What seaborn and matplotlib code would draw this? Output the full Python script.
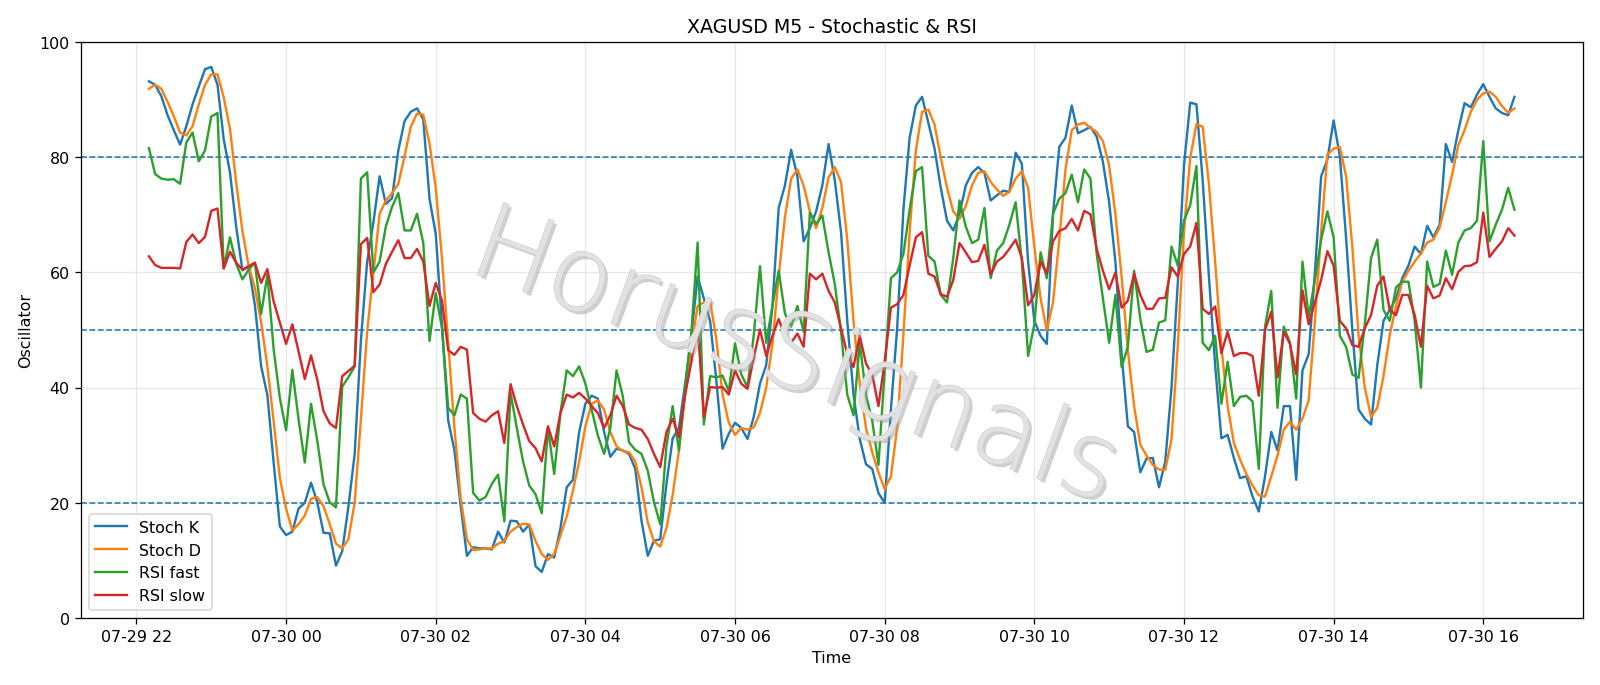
import numpy as np
import pandas as pd
import matplotlib
matplotlib.use("Agg")
import matplotlib.pyplot as plt
import matplotlib.dates as mdates
import matplotlib.patheffects as pe
from matplotlib import font_manager
import seaborn as sns

times = pd.date_range("2025-07-29 22:10", periods=220, freq="5min")

stoch_k = [
    93.2, 92.6, 90.6, 87.3, 84.7, 82.2, 85.4, 89.2, 92.3, 95.3,
    95.7, 92.6, 83.1, 77.4, 67.9, 60.4, 61.0, 54.3, 43.7, 38.7,
    27.0, 15.9, 14.4, 15.0, 19.0, 20.0, 23.5, 20.1, 14.8, 14.7,
    9.1, 11.6, 19.4, 28.5, 48.2, 61.9, 68.7, 76.7, 71.9, 72.9,
    81.2, 86.3, 87.9, 88.5, 86.6, 72.8, 66.7, 51.0, 34.3, 29.1,
    19.5, 10.8, 12.3, 12.1, 12.1, 11.9, 15.0, 13.1, 16.9, 16.8,
    15.0, 16.2, 9.0, 8.0, 11.1, 10.5, 15.6, 22.7, 24.0, 32.3,
    37.2, 38.6, 38.1, 32.3, 28.0, 29.4, 29.1, 28.5, 25.9, 16.9,
    10.8, 13.4, 13.7, 23.3, 31.2, 33.0, 40.7, 49.1, 59.3, 55.5,
    51.6, 41.3, 29.4, 32.0, 33.9, 33.0, 31.1, 34.9, 40.7, 43.9,
    54.2, 71.2, 75.1, 81.3, 76.7, 65.4, 67.7, 70.6, 75.1, 82.3,
    76.0, 67.0, 51.6, 38.8, 31.1, 26.7, 25.9, 21.7, 20.0, 36.2,
    50.3, 70.9, 83.4, 89.0, 90.5, 86.0, 81.5, 74.7, 69.0, 67.3,
    70.2, 75.1, 77.3, 78.3, 77.3, 72.5, 73.4, 74.2, 74.0, 80.8,
    78.9, 61.9, 51.6, 49.0, 47.6, 70.2, 81.8, 83.4, 89.0, 84.2,
    84.7, 85.3, 83.6, 79.2, 72.2, 61.9, 45.8, 33.3, 32.3, 25.3,
    27.7, 27.8, 22.7, 27.2, 40.0, 58.0, 78.6, 89.5, 89.2, 76.0,
    59.3, 43.9, 31.2, 31.8, 27.8, 24.3, 24.6, 21.1, 18.5, 24.6,
    32.3, 29.1, 36.8, 36.8, 24.0, 43.0, 45.8, 60.0, 76.7, 79.6,
    86.4, 80.2, 66.0, 50.0, 36.2, 34.6, 33.6, 43.9, 51.6, 53.5,
    55.5, 59.0, 61.2, 64.5, 63.2, 68.1, 66.1, 68.3, 82.3, 79.2,
    84.7, 89.4, 88.7, 90.9, 92.7, 90.5, 88.5, 87.7, 87.3, 90.5,
]

stoch_d = [
    91.9, 92.6, 91.9, 89.6, 87.1, 84.3, 83.8, 85.4, 89.2, 92.6,
    94.4, 94.4, 90.4, 85.0, 75.6, 67.2, 61.1, 57.3, 51.3, 43.7,
    34.2, 24.3, 19.0, 15.2, 16.3, 17.8, 20.7, 21.0, 19.4, 16.3,
    12.9, 12.1, 13.7, 20.1, 34.5, 49.7, 60.0, 70.2, 72.5, 73.8,
    75.4, 80.2, 85.3, 87.6, 87.4, 82.4, 74.7, 62.5, 47.8, 33.0,
    20.8, 13.7, 11.8, 11.9, 12.1, 12.1, 12.9, 13.4, 15.0, 15.8,
    16.4, 16.2, 13.4, 11.1, 10.1, 11.1, 14.3, 17.6, 22.1, 27.2,
    33.3, 37.2, 37.8, 36.2, 32.3, 29.8, 29.0, 28.8, 27.2, 22.7,
    16.6, 13.3, 12.4, 15.6, 21.4, 29.1, 38.8, 47.1, 54.2, 54.8,
    55.1, 48.4, 38.8, 33.9, 31.8, 33.0, 32.7, 33.1, 35.6, 40.0,
    47.6, 59.3, 69.6, 76.3, 77.9, 75.1, 70.6, 67.7, 71.2, 76.5,
    78.3, 75.7, 65.7, 51.6, 40.7, 33.0, 28.8, 25.3, 22.4, 24.6,
    33.0, 49.1, 67.0, 81.2, 87.9, 88.3, 85.7, 79.9, 74.7, 70.6,
    69.3, 71.5, 75.1, 77.3, 77.6, 75.7, 74.4, 73.3, 74.0, 76.3,
    77.6, 74.7, 64.5, 55.5, 50.0, 54.8, 65.7, 77.9, 84.7, 85.7,
    86.0, 85.1, 84.4, 82.8, 78.6, 70.2, 59.3, 46.5, 36.8, 30.1,
    28.2, 26.6, 25.8, 25.7, 31.0, 47.1, 67.0, 79.9, 85.8, 85.3,
    75.4, 61.9, 47.1, 36.8, 30.4, 27.5, 25.0, 23.0, 21.3, 21.1,
    24.6, 28.2, 32.7, 34.1, 32.7, 34.6, 37.8, 51.6, 67.0, 80.5,
    81.5, 81.8, 76.7, 64.5, 49.1, 40.0, 34.9, 36.5, 42.0, 49.1,
    54.2, 58.4, 60.3, 61.9, 63.3, 65.2, 65.7, 67.8, 72.2, 77.0,
    82.1, 84.7, 87.9, 90.0, 91.1, 91.4, 90.5, 88.9, 87.7, 88.5,
]

rsi_fast = [
    81.6, 77.1, 76.3, 76.1, 76.2, 75.4, 82.6, 84.3, 79.3, 81.2,
    87.1, 87.7, 60.7, 66.1, 61.5, 58.8, 60.5, 61.7, 52.8, 59.6,
    46.7, 38.2, 32.6, 43.1, 34.5, 27.0, 37.2, 30.8, 23.2, 20.1,
    19.2, 40.2, 41.8, 43.7, 76.3, 77.4, 60.0, 61.9, 68.0, 71.4,
    73.8, 67.3, 67.3, 70.2, 65.1, 48.1, 56.4, 50.3, 36.5, 35.2,
    38.8, 38.1, 21.7, 20.4, 21.0, 23.3, 24.9, 16.8, 39.1, 33.0,
    27.2, 23.0, 21.5, 18.2, 33.0, 25.0, 35.6, 43.0, 42.0, 43.7,
    40.7, 36.2, 31.7, 28.5, 33.0, 43.0, 38.5, 30.5, 29.2, 28.5,
    25.6, 20.1, 16.3, 29.8, 36.8, 29.1, 40.0, 49.7, 65.2, 33.6,
    42.0, 41.8, 42.1, 39.4, 47.7, 42.3, 40.1, 49.1, 61.1, 47.8,
    54.2, 60.3, 52.9, 50.6, 54.2, 49.7, 70.4, 68.4, 69.9, 63.5,
    58.0, 49.7, 38.8, 35.2, 47.8, 38.8, 34.3, 26.6, 42.7, 59.0,
    60.0, 63.2, 70.9, 77.6, 78.3, 62.9, 61.9, 56.1, 54.8, 62.5,
    72.5, 68.0, 65.1, 65.7, 71.2, 59.0, 63.8, 65.1, 68.3, 72.2,
    61.9, 45.5, 51.0, 63.5, 59.0, 70.2, 72.8, 73.8, 77.0, 72.2,
    77.9, 76.3, 63.2, 55.5, 47.8, 56.1, 43.6, 47.1, 60.3, 51.9,
    46.2, 46.6, 51.3, 51.7, 64.5, 61.2, 69.0, 71.7, 78.5, 47.8,
    46.5, 49.0, 37.2, 44.5, 36.8, 38.4, 38.6, 37.6, 25.9, 50.6,
    56.8, 36.5, 50.6, 47.8, 38.1, 61.9, 52.3, 58.7, 65.7, 70.6,
    66.1, 49.0, 47.1, 42.3, 41.7, 51.0, 62.5, 65.7, 53.5, 51.6,
    57.4, 58.4, 58.4, 51.6, 40.0, 61.9, 57.5, 58.0, 63.8, 59.6,
    65.2, 67.3, 67.7, 69.0, 82.8, 65.4, 68.3, 70.9, 74.7, 70.9,
]

rsi_slow = [
    62.8, 61.3, 60.8, 60.8, 60.8, 60.7, 65.3, 66.6, 65.1, 66.2,
    70.7, 71.1, 60.7, 63.6, 61.7, 60.5, 61.1, 61.7, 58.2, 60.6,
    55.0, 51.3, 47.6, 51.0, 46.3, 41.5, 45.6, 41.4, 35.9, 33.8,
    33.0, 42.0, 42.9, 43.8, 64.9, 66.0, 56.6, 57.9, 61.5, 63.6,
    65.6, 62.5, 62.5, 64.1, 61.9, 54.2, 58.2, 55.1, 46.5, 45.7,
    47.1, 46.6, 35.6, 34.6, 34.1, 35.2, 35.9, 30.4, 40.6, 36.8,
    33.6, 30.7, 29.5, 27.2, 33.3, 29.8, 35.6, 38.8, 38.3, 39.1,
    38.1, 36.8, 35.6, 33.0, 35.2, 38.6, 36.8, 33.6, 33.0, 32.7,
    31.1, 28.5, 26.2, 32.3, 34.6, 31.4, 38.8, 44.5, 51.0, 34.9,
    40.1, 40.0, 40.1, 38.8, 43.0, 40.7, 39.8, 45.2, 50.1, 45.5,
    49.0, 51.9, 49.0, 47.8, 49.4, 47.1, 59.8, 58.8, 59.8, 56.8,
    54.8, 50.3, 45.8, 43.6, 49.0, 44.2, 42.3, 36.8, 44.5, 53.9,
    54.5, 56.1, 61.2, 66.1, 67.0, 59.8, 59.3, 56.2, 55.8, 58.7,
    65.1, 63.5, 61.8, 62.0, 64.8, 59.6, 61.9, 62.7, 64.1, 65.7,
    62.5, 54.3, 56.1, 61.9, 59.8, 65.4, 67.2, 67.7, 69.3, 67.3,
    70.7, 70.1, 64.1, 60.3, 57.1, 60.0, 53.9, 55.1, 59.8, 56.1,
    53.7, 53.7, 55.5, 55.6, 60.9, 59.3, 63.2, 64.5, 68.6, 53.7,
    52.8, 54.1, 46.0, 49.7, 45.5, 46.0, 46.0, 45.5, 38.6, 50.0,
    53.2, 41.8, 49.7, 47.6, 42.3, 56.9, 51.0, 54.8, 58.7, 63.7,
    61.2, 51.6, 50.3, 47.4, 47.1, 50.3, 52.6, 57.7, 59.3, 53.5,
    52.6, 56.1, 56.1, 52.6, 47.1, 57.7, 55.5, 56.0, 59.0, 57.1,
    60.1, 61.1, 61.2, 61.8, 70.4, 62.7, 64.1, 65.4, 67.7, 66.4,
]

levels = [20, 50, 80]
series_names = ["Stoch K", "Stoch D", "RSI fast", "RSI slow"]
series_colors = ["#1f77b4", "#ff7f0e", "#2ca02c", "#d62728"]

df = pd.DataFrame({
    "Time": times,
    "Stoch K": stoch_k,
    "Stoch D": stoch_d,
    "RSI fast": rsi_fast,
    "RSI slow": rsi_slow,
})

fig = plt.figure(figsize=(14, 6), dpi=1600 / 14)
ax = fig.add_axes([0.0504, 0.0977, 0.9388, 0.8398])

for name, col in zip(series_names, series_colors):
    sns.lineplot(data=df, x="Time", y=name, ax=ax, color=col, linewidth=1.5,
                 label=name, zorder=3)

for lv in levels:
    ax.axhline(lv, color="#1f77b4", linestyle="--", linewidth=1.0, zorder=2)

ax.set_ylim(0, 100)
ax.grid(True, alpha=0.3)
ax.set_axisbelow(True)
ax.xaxis.set_major_locator(mdates.HourLocator(byhour=range(0, 24, 2)))
ax.xaxis.set_major_formatter(mdates.DateFormatter("%m-%d %H"))
ax.set_title("XAGUSD M5 - Stochastic & RSI", fontsize=12)
ax.set_xlabel("Time")
ax.set_ylabel("Oscillator")
ax.legend(loc="lower left")

# thin, embossed-looking watermark
wm_font = font_manager.FontProperties(family="DejaVu Sans", weight="ultralight", size=66)
fig.text(0.497, 0.475, "HorusSignals", fontproperties=wm_font, rotation=-20,
         ha="center", va="center", color="#e2e2e2", zorder=1,
         path_effects=[pe.SimplePatchShadow(offset=(2, -2), shadow_rgbFace="#a0a0a0", alpha=0.5),
                       pe.Stroke(linewidth=0.8, foreground="#cfcfcf"),
                       pe.Normal()])

fig.savefig("out.png", dpi=1600 / 14)
